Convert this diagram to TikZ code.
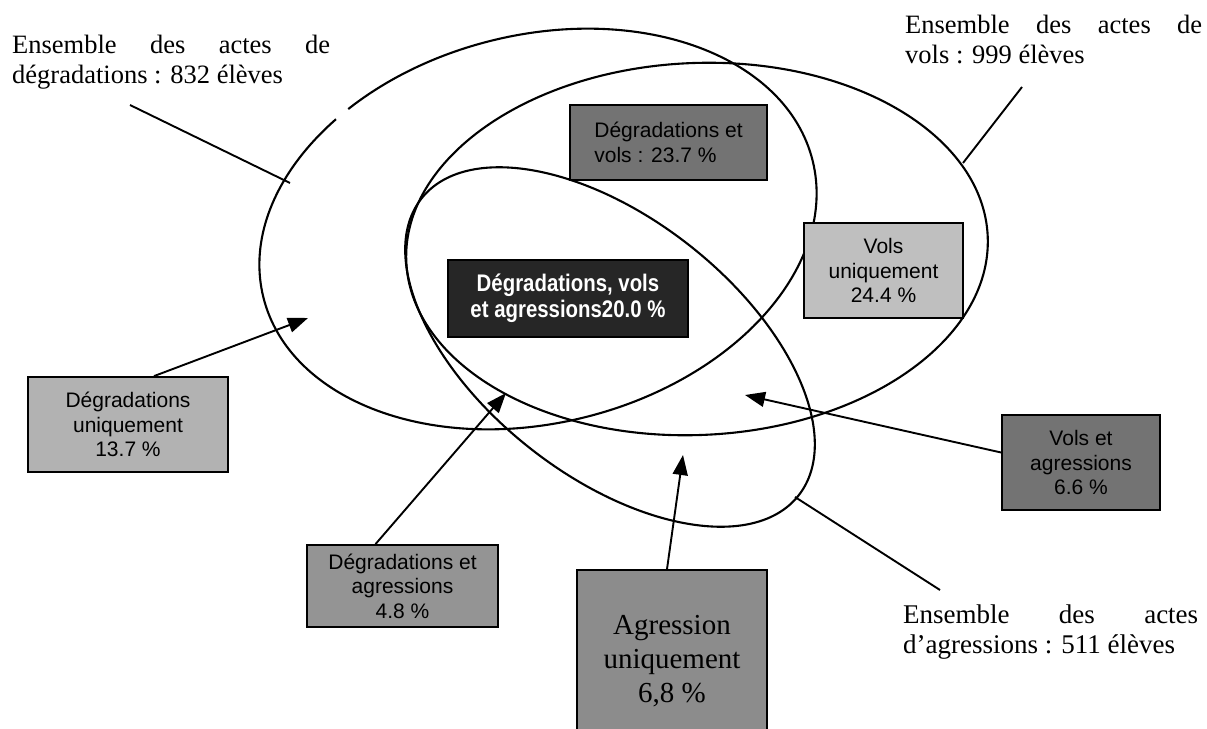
\documentclass[tikz,border=0pt]{standalone}
\usepackage{fontspec}
\setmainfont{Liberation Serif}
\newfontfamily\boxfont{Liberation Sans}
\newfontfamily\boxboldfont[FakeStretch=0.85]{Liberation Sans}
\usetikzlibrary{arrows.meta}
\begin{document}
\begin{tikzpicture}[x=1pt,y=-1pt,
  ell/.style={line width=2.1pt},
  conn/.style={line width=1.9pt},
  arr/.style={line width=1.9pt,-{Triangle[length=20pt,width=15pt]}},
  boxbase/.style={draw=black,line width=1.8pt,inner sep=0pt,align=center},
  sansbox/.style={boxbase,font=\boxfont\fontsize{21}{24.5}\selectfont},
  lbl/.style={anchor=base west,inner sep=0pt}]
\useasboundingbox (0,0) rectangle (1207,728);
\fill[white] (0,0) rectangle (1207,728);

% ellipses
\draw[ell,rotate around={14:(538,229)}] (538,229) ellipse [x radius=283,y radius=194];
\draw[white,line width=5pt] (336,119) -- (348,109);
\draw[ell,rotate around={2.5:(697,249)}] (697,249) ellipse [x radius=291,y radius=186];
\draw[ell,rotate around={-38.2:(610,347)}] (610,347) ellipse [x radius=240,y radius=129];

% boxes
\node[sansbox,fill=black!55,minimum width=197pt,minimum height=75pt,align=left] (DV) at (668.5,142.5) {Dégradations et\\vols : 23.7 \%};
\node[boxbase,fill=black!85,text=white,minimum width=240pt,minimum height=77pt,font=\boxboldfont\bfseries\fontsize{24}{26}\selectfont] (DVA) at (568,298.5) {Dégradations, vols\\et agressions20.0 \%};
\node[sansbox,fill=black!25,minimum width=159pt,minimum height=95pt] (VU) at (883.5,270.5) {Vols\\uniquement\\24.4 \%};
\node[sansbox,fill=black!30,minimum width=200pt,minimum height=95pt] (DU) at (128,424.5) {Dégradations\\uniquement\\13.7 \%};
\node[sansbox,fill=black!55,minimum width=158pt,minimum height=95pt] (VA) at (1081,462.5) {Vols et\\agressions\\6.6 \%};
\node[sansbox,fill=black!42,minimum width=191pt,minimum height=82pt] (DA) at (402.5,586) {Dégradations et\\agressions\\4.8 \%};
\node[boxbase,fill=black!45,minimum width=190pt,minimum height=182pt,font=\fontsize{29}{34}\selectfont] (AU) at (672,661) {Agression\\uniquement\\6,8 \%};

% labels
\node[lbl] (LD) at (12,53) {\parbox[t]{318pt}{\fontsize{26.5}{30}\selectfont\makebox[318pt][s]{Ensemble des actes de}\\dégradations : 832 élèves}};
\node[lbl] (LV) at (905,33) {\parbox[t]{297pt}{\fontsize{26.5}{30}\selectfont\makebox[297pt][s]{Ensemble des actes de}\\vols : 999 élèves}};
\node[lbl] (LA) at (903,623) {\parbox[t]{295pt}{\fontsize{27}{30}\selectfont\makebox[295pt][s]{Ensemble des actes}\\d’agressions : 511 élèves}};

% pointer coordinates
\coordinate (pD0) at (130,105);
\coordinate (pD1) at (290,183);
\coordinate (pV0) at (1022,87);
\coordinate (pV1) at (963,163);
\coordinate (pA0) at (940,590);
\coordinate (pA1) at (795,497);
\draw[conn] (pD0) -- (pD1);
\draw[conn] (pV0) -- (pV1);
\draw[conn] (pA0) -- (pA1);

% arrows
\coordinate (tDU) at (308,318);
\coordinate (tDA) at (506,393);
\coordinate (tAU) at (683,455);
\coordinate (tVA) at (745,395);
\draw[arr] ([xshift=26pt]DU.north) -- (tDU);
\draw[arr] ([xshift=-27pt]DA.north) -- (tDA);
\draw[arr] ([xshift=-5pt]AU.north) -- (tAU);
\draw[arr] ([yshift=10pt]VA.west) -- (tVA);
\end{tikzpicture}
\end{document}
